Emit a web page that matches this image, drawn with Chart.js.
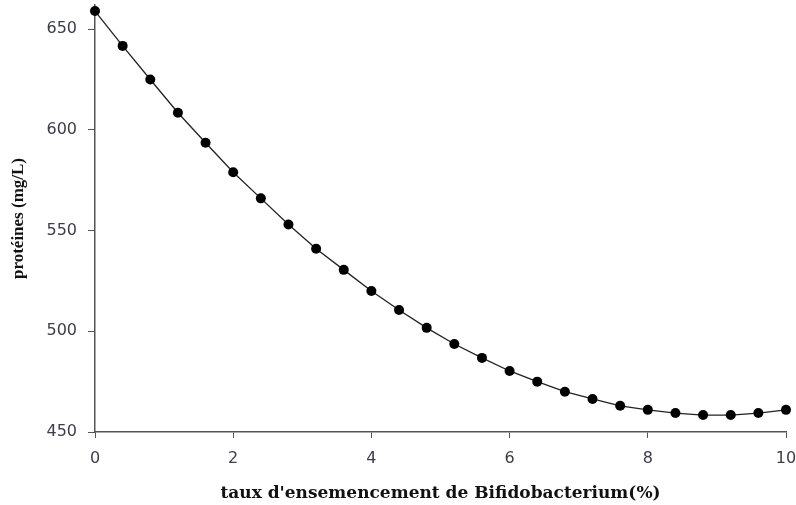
<!DOCTYPE html>
<html>
<head>
<meta charset="utf-8">
<script src="https://cdn.jsdelivr.net/npm/chart.js@4/dist/chart.umd.min.js"></script>
<style>
  html, body { margin: 0; padding: 0; background: #fff; }
  #box { width: 796px; height: 505px; }
</style>
</head>
<body>
<div id="box"><canvas id="graphe"></canvas></div>
<script>
// taux d'ensemencement (%)
const taux = [0, 0.4, 0.8, 1.2, 1.6, 2.0, 2.4, 2.8, 3.2, 3.6, 4.0, 4.4, 4.8,
              5.2, 5.6, 6.0, 6.4, 6.8, 7.2, 7.6, 8.0, 8.4, 8.8, 9.2, 9.6, 10];
// protéines (mg/L)
const proteines = [659, 641.7, 625, 608.5, 593.6, 579, 566, 553, 541, 530.5, 520, 510.6, 501.7,
                   493.7, 486.8, 480.3, 475, 470, 466.4, 463, 461, 459.4, 458.4, 458.4, 459.4, 461];
const xTicks = [0, 2, 4, 6, 8, 10];
const yTicks = [450, 500, 550, 600, 650];

const points = taux.map((t, i) => ({ x: t, y: proteines[i] }));
const tickColor = "#3d3d4a";
const axisColor = "#555";

new Chart(document.getElementById("graphe"), {
    type: "line",
    data: {
        datasets: [{
            data: points,
            borderColor: "#222",
            borderWidth: 1.3,
            backgroundColor: "#000",
            pointRadius: 5,
            pointBorderWidth: 0,
            tension: 0,
            clip: false
        }]
    },
    options: {
        responsive: true,
        maintainAspectRatio: false,
        animation: false,
        layout: { padding: { top: 5, right: 0, left: 0, bottom: 0 } },
        plugins: { legend: { display: false }, tooltip: { enabled: false } },
        scales: {
            x: {
                type: "linear",
                min: 0,
                max: 10,
                afterBuildTicks: s => { s.ticks = xTicks.map(v => ({ value: v })); },
                afterFit: s => { s.height = 73; s.paddingRight = 10; s.paddingLeft = 0; },
                border: { display: true, color: axisColor, width: 1.5 },
                grid: { drawOnChartArea: false, drawTicks: true, tickLength: 6, color: axisColor },
                ticks: {
                    color: tickColor,
                    padding: 11,
                    maxRotation: 0,
                    font: { family: "DejaVu Sans", size: 16 }
                },
                title: {
                    display: true,
                    text: "taux d'ensemencement de Bifidobacterium(%)",
                    color: "#111",
                    padding: { top: 0, bottom: 1 },
                    font: { family: "DejaVu Serif", size: 17, weight: "bold" }
                }
            },
            y: {
                min: 450,
                max: 662,
                afterBuildTicks: s => { s.ticks = yTicks.map(v => ({ value: v })); },
                afterFit: s => { s.width = 95; s.paddingTop = 0; s.paddingBottom = 0; },
                border: { display: true, color: axisColor, width: 1.5 },
                grid: { drawOnChartArea: false, drawTicks: true, tickLength: 7, color: axisColor },
                ticks: {
                    color: tickColor,
                    padding: 11,
                    font: { family: "DejaVu Sans", size: 16 }
                },
                title: {
                    display: true,
                    text: "protéines (mg/L)",
                    color: "#111",
                    padding: { top: 8, bottom: 0 },
                    font: { family: "Liberation Serif", size: 17, weight: "bold" }
                }
            }
        }
    }
});
</script>
</body>
</html>
